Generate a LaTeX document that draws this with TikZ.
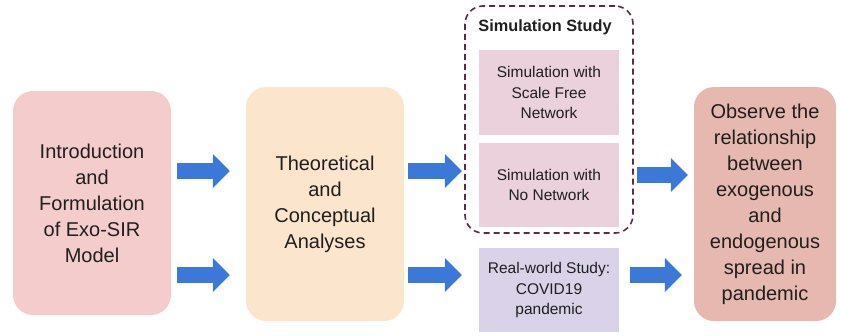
\documentclass[tikz,border=0pt]{standalone}
\usepackage{fontspec}
\setmainfont{Liberation Sans}
\usetikzlibrary{arrows.meta}
\definecolor{pinkA}{HTML}{F4CCCC}
\definecolor{peach}{HTML}{FCE5CD}
\definecolor{mauve}{HTML}{EAD1DC}
\definecolor{lav}{HTML}{D9D2E9}
\definecolor{rose}{HTML}{E6B8AF}
\definecolor{arrowblue}{HTML}{3C78D8}
\definecolor{maroon}{HTML}{5E2A45}
\definecolor{txt}{HTML}{1F1F1F}
\tikzset{
  bigbox/.style={rounded corners=20pt, align=center, text=txt, inner sep=0pt,
    font=\fontsize{20}{26}\selectfont},
  smallbox/.style={align=center, text=txt, inner sep=0pt, minimum width=140pt,
    font=\fontsize{15.5}{20.5}\selectfont},
  bigarrow/.style={draw=arrowblue, line width=16pt,
    -{Triangle[length=17pt,width=33pt]}},
}
\begin{document}
\begin{tikzpicture}[x=1pt,y=-1pt]
\useasboundingbox (0,0) rectangle (841,335);
% main boxes
\node[bigbox, fill=pinkA, minimum width=158pt, minimum height=224pt] (b1) at (92,203)
  {Introduction\\and\\Formulation\\of Exo-SIR\\Model};
\node[bigbox, fill=peach, minimum width=158pt, minimum height=234pt] (b2) at (325,204)
  {Theoretical\\and\\Conceptual\\Analyses};
\node[bigbox, fill=rose, minimum width=142pt, minimum height=234pt] (b5) at (765,204)
  {Observe the\\relationship\\between\\exogenous\\and\\endogenous\\spread in\\pandemic};
% simulation group
\node[draw=maroon, dashed, line width=1.6pt, dash pattern=on 6pt off 4pt,
  rounded corners=18pt, minimum width=168pt, minimum height=227pt] (grp) at (549,119.5) {};
\node[text=txt, font=\fontsize{16.3}{20}\selectfont\bfseries] (title) at (545,27) {Simulation Study};
\node[smallbox, fill=mauve, minimum height=85pt] (s1) at (549,92.5)
  {Simulation with\\Scale Free\\Network};
\node[smallbox, fill=mauve, minimum height=84pt] (s2) at (549,185)
  {Simulation with\\No Network};
\node[smallbox, fill=lav, minimum height=84pt] (rw) at (549,290)
  {Real-world Study:\\COVID19\\pandemic};
% arrows
\draw[bigarrow] ([shift={(6,-32)}]b1.east) -- ([shift={(-16,-33)}]b2.west);
\draw[bigarrow] ([shift={(6,72)}]b1.east) -- ([shift={(-16,71)}]b2.west);
\draw[bigarrow] ([shift={(4,-33)}]b2.east) -- ([shift={(-17,-14)}]s2.west);
\draw[bigarrow] ([shift={(4,71)}]b2.east) -- ([shift={(-17,-15)}]rw.west);
\draw[bigarrow] ([shift={(18,-10)}]s2.east) -- ([shift={(-6,-29)}]b5.west);
\draw[bigarrow] ([shift={(11,-15)}]rw.east) -- ([shift={(-12,71)}]b5.west);
\end{tikzpicture}
\end{document}
